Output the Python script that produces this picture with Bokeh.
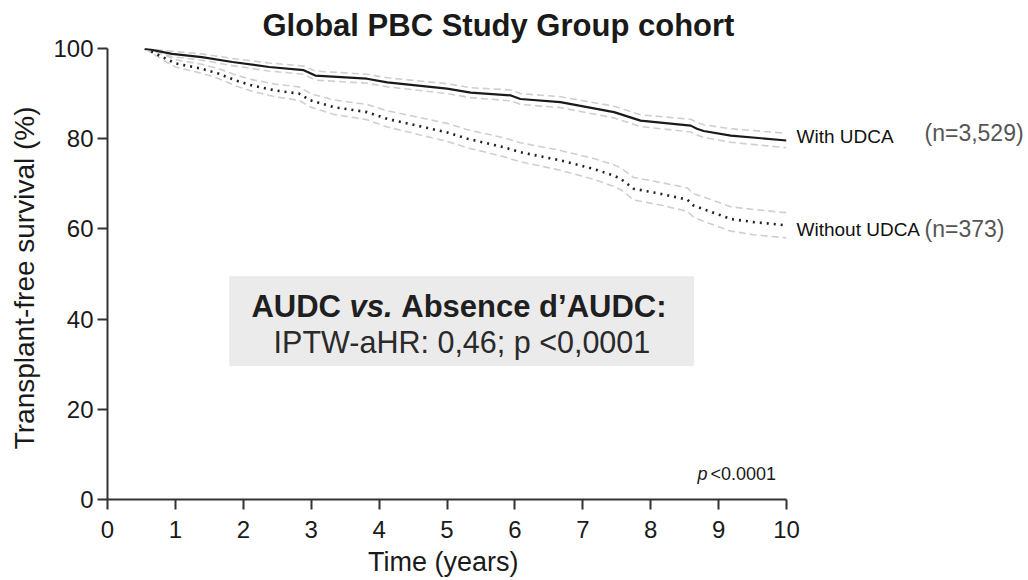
from bokeh.plotting import figure
from bokeh.models import Range1d, Label, BoxAnnotation, FixedTicker, LinearAxis
from bokeh.embed import file_html
from bokeh.resources import INLINE

# ---------------- data ----------------
title_text = "Global PBC Study Group cohort"
x_label = "Time  (years)"
y_label = "Transplant-free survival  (%)"
x_ticks = [0, 1, 2, 3, 4, 5, 6, 7, 8, 9, 10]
y_ticks = [0, 20, 40, 60, 80, 100]

group_names = ["With UDCA", "Without UDCA"]
group_n = ["(n=3,529)", "(n=373)"]

with_t = [0.55, 0.95, 1.39, 1.84, 2.38, 2.89, 3.06, 3.82, 4.12, 5.0, 5.35,
          5.94, 6.08, 6.67, 7.46, 7.85, 8.59, 8.68, 8.78, 9.18, 10.0]
with_s = [100, 98.8, 98.1, 97.0, 95.9, 95.2, 94.0, 93.3, 92.5, 91.1, 90.2,
          89.6, 88.8, 88.1, 85.9, 84.0, 82.9, 82.2, 81.7, 80.7, 79.6]
with_hi = [100, 99.4, 98.8, 97.8, 96.8, 96.1, 95.0, 94.3, 93.5, 92.2, 91.3,
           90.8, 90.0, 89.3, 87.2, 85.3, 84.3, 83.6, 83.1, 82.2, 81.2]
with_lo = [100, 98.2, 97.4, 96.2, 95.0, 94.3, 93.0, 92.3, 91.5, 90.0, 89.1,
           88.4, 87.6, 86.9, 84.6, 82.7, 81.5, 80.8, 80.3, 79.2, 78.0]

without_t = [0.55, 0.81, 1.0, 1.39, 1.64, 1.89, 2.13, 2.47, 2.82, 2.99, 3.33,
             3.82, 4.12, 4.56, 5.0, 5.3, 5.84, 6.08, 6.67, 7.16, 7.46, 7.56,
             7.75, 8.14, 8.54, 8.63, 8.83, 9.18, 9.52, 10.0]
without_s = [100, 98.1, 96.7, 95.5, 94.4, 92.9, 91.8, 90.7, 90.0, 88.5, 87.0,
             85.9, 84.4, 82.9, 81.4, 80.0, 78.1, 77.0, 75.2, 73.3, 71.8, 71.1,
             68.9, 67.8, 66.5, 65.2, 64.1, 62.2, 61.5, 60.8]
without_hi = [100, 98.7, 97.5, 96.5, 95.5, 94.1, 93.1, 92.1, 91.5, 90.0, 88.6,
              87.6, 86.2, 84.8, 83.4, 82.0, 80.2, 79.1, 77.4, 75.6, 74.2, 73.5,
              71.4, 70.3, 69.1, 67.8, 66.8, 64.9, 64.3, 63.6]
without_lo = [100, 97.5, 95.9, 94.5, 93.3, 91.7, 90.5, 89.3, 88.5, 87.0, 85.4,
              84.2, 82.6, 81.0, 79.4, 78.0, 76.0, 74.9, 73.0, 71.0, 69.4, 68.7,
              66.4, 65.3, 63.9, 62.6, 61.4, 59.5, 58.7, 58.0]

box_line1 = ["AUDC", "vs.", "Absence d\u2019AUDC:"]
box_line2 = "IPTW-aHR: 0,46; p <0,0001"
p_text = ["p", "<0.0001"]

FONT = "Liberation Sans"

# ---------------- figure ----------------
p = figure(width=1028, height=580, output_backend="svg", toolbar_location=None,
           x_range=Range1d(0, 10), y_range=Range1d(0, 100),
           min_border_left=107, min_border_right=242, min_border_top=48,
           min_border_bottom=81, background_fill_color="white",
           border_fill_color="white", outline_line_color=None)
p.grid.visible = False

p.title.text = title_text
p.title.text_font = FONT
p.title.text_font_size = "31px"
p.title.text_font_style = "bold"
p.title.text_color = "#1a1a1a"
p.title.align = "left"
p.title.offset = 155
p.title.standoff = 11

for ax in (p.xaxis[0], p.yaxis[0]):
    ax.axis_line_width = 2
    ax.axis_line_color = "#333333"
    ax.major_tick_line_width = 2
    ax.major_tick_line_color = "#333333"
    ax.major_tick_out = 10
    ax.major_tick_in = 0
    ax.minor_tick_line_color = None
    ax.major_label_text_font = FONT
    ax.major_label_text_font_size = "24px"
    ax.major_label_text_color = "#1a1a1a"
    ax.axis_label_text_font = FONT
    ax.axis_label_text_font_style = "normal"
    ax.axis_label_text_color = "#1a1a1a"

p.xaxis.ticker = FixedTicker(ticks=x_ticks)
p.yaxis.ticker = FixedTicker(ticks=y_ticks)
p.xaxis.axis_label = x_label
p.yaxis.axis_label = y_label
p.xaxis.axis_label_text_font_size = "27px"
p.yaxis.axis_label_text_font_size = "28px"
p.xaxis.major_label_standoff = 11
p.xaxis.axis_label_standoff = 6
p.yaxis.major_label_standoff = 4
p.yaxis.axis_label_standoff = 10

# confidence bands (light gray dashed)
band = dict(line_color="#cfcfcf", line_width=1.6, line_dash="7 4")
p.line(with_t, with_hi, **band)
p.line(with_t, with_lo, **band)
p.line(without_t, without_hi, **band)
p.line(without_t, without_lo, **band)

# survival curves
p.line(with_t, with_s, line_color="#1a1a1a", line_width=2.2)
p.line(without_t, without_s, line_color="#222222", line_width=2.6, line_dash="2 5")

# curve labels at the line ends: two label-only axes on the right
ends = [with_s[-1], without_s[-1]]
name_pos = [ends[0] + 0.9, ends[1] - 0.9]
n_pos = [ends[0] + 1.6, ends[1] - 0.9]

def label_axis(ticks, texts, size, color, standoff):
    ax = LinearAxis(ticker=FixedTicker(ticks=ticks),
                    major_label_overrides={t: s for t, s in zip(ticks, texts)},
                    axis_line_color=None, major_tick_line_color=None,
                    minor_tick_line_color=None, major_tick_out=0, major_tick_in=0,
                    major_label_standoff=standoff,
                    major_label_text_font=FONT, major_label_text_font_size=size,
                    major_label_text_color=color)
    p.add_layout(ax, "right")

label_axis(name_pos, group_names, "19px", "#111111", 10)
label_axis(n_pos, group_n, "23px", "#555555", 1)

# stats box
p.add_layout(BoxAnnotation(left=1.80, right=8.63, bottom=29.7, top=49.4,
                           fill_color="#ebebeb", fill_alpha=1.0,
                           line_color="#d4d4d4", line_width=1.2))
cx = 5.22
fs = 31
sp = 0.278 * fs
w1 = 2.888 * fs + sp
w2 = 1.39 * fs + sp
total = 13.39 * fs
x0 = -total / 2 - 3
styles = ["bold", "bold italic", "bold"]
offs = [x0, x0 + w1, x0 + w1 + w2]
for txt, st, off in zip(box_line1, styles, offs):
    p.add_layout(Label(x=cx, y=42.7, x_offset=off, text=txt, text_font=FONT,
                       text_font_size=f"{fs}px", text_font_style=st,
                       text_color="#1f1f1f", text_align="left",
                       text_baseline="alphabetic"))
p.add_layout(Label(x=cx, y=34.95, text=box_line2, text_font=FONT,
                   text_font_size="30.5px", text_color="#2a2a2a",
                   text_align="center", text_baseline="alphabetic"))

# p-value note
p.add_layout(Label(x=8.69, y=5.75, text=p_text[0], text_font=FONT,
                   text_font_size="18px", text_font_style="italic",
                   text_color="#1a1a1a", text_baseline="alphabetic"))
p.add_layout(Label(x=8.69, y=5.75, x_offset=13, text=p_text[1], text_font=FONT,
                   text_font_size="18px", text_color="#1a1a1a",
                   text_baseline="alphabetic"))

open("out.html", "w").write(file_html(p, INLINE))
